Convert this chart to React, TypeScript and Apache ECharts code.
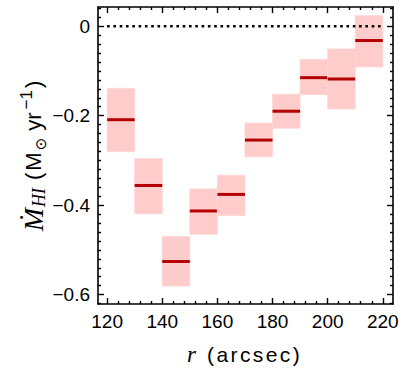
import React, { useEffect, useRef } from "react";
import * as echarts from "echarts";

// ---- data ----
const rStart = [120, 130, 140, 150, 160, 170, 180, 190, 200, 210];
const rEnd = [130, 140, 150, 160, 170, 180, 190, 200, 210, 220];
const mdot = [-0.209, -0.356, -0.526, -0.413, -0.376, -0.2545, -0.19, -0.115, -0.118, -0.032];
const mdotLow = [-0.2805, -0.419, -0.581, -0.465, -0.423, -0.292, -0.228, -0.153, -0.185, -0.091];
const mdotHigh = [-0.139, -0.296, -0.47, -0.364, -0.333, -0.2165, -0.152, -0.074, -0.051, 0.024];
const zeroLine = [
  [120, 0],
  [220, 0],
];

const xMajor = [120, 140, 160, 180, 200, 220];
const xMinor = [124, 128, 132, 136, 144, 148, 152, 156, 164, 168, 172, 176, 184, 188, 192, 196, 204, 208, 212, 216];
const yMajor = [-0.6, -0.4, -0.2, 0];
const yMinor = [-0.62, -0.58, -0.56, -0.54, -0.52, -0.5, -0.48, -0.46, -0.44, -0.42, -0.38, -0.36, -0.34, -0.32, -0.3, -0.28, -0.26, -0.24, -0.22, -0.18, -0.16, -0.14, -0.12, -0.1, -0.08, -0.06, -0.04, -0.02, 0.02, 0.04];

const X_MIN = 116.7;
const X_MAX = 223.7;
const Y_MIN = -0.621;
const Y_MAX = 0.043;

const SANS = "'Liberation Sans', Arial, Helvetica, sans-serif";
const SERIF = "'Liberation Serif', 'DejaVu Serif', 'Times New Roman', serif";

function fmtY(v: number): string {
  if (Math.abs(v) < 1e-9) return "0";
  return (v < 0 ? "\u2212" : "") + Math.abs(v).toFixed(1);
}

function xAxisDef(position: string, major: boolean, labels: boolean) {
  return {
    type: "value",
    position,
    min: X_MIN,
    max: X_MAX,
    axisLine: { show: major, onZero: false, lineStyle: { color: "#000", width: 1.6 } },
    axisTick: {
      show: true,
      inside: true,
      length: major ? 6 : 3,
      customValues: major ? xMajor : xMinor,
      lineStyle: { color: "#000", width: 1.4 },
    },
    axisLabel: {
      show: labels,
      customValues: xMajor,
      fontSize: 19,
      fontFamily: SANS,
      color: "#000",
      margin: 8,
      formatter: (v: number) => String(Math.round(v)),
    },
    splitLine: { show: false },
  };
}

function yAxisDef(position: string, major: boolean, labels: boolean) {
  return {
    type: "value",
    position,
    min: Y_MIN,
    max: Y_MAX,
    axisLine: { show: major, onZero: false, lineStyle: { color: "#000", width: 1.6 } },
    axisTick: {
      show: true,
      inside: true,
      length: major ? 6 : 3,
      customValues: major ? yMajor : yMinor,
      lineStyle: { color: "#000", width: 1.4 },
    },
    axisLabel: {
      show: labels,
      customValues: yMajor,
      fontSize: 19,
      fontFamily: SANS,
      color: "#000",
      margin: 8,
      formatter: (v: number) => fmtY(v),
    },
    splitLine: { show: false },
  };
}

const spaced = (s: string) =>
  s
    .split("")
    .map((c) => "{c|" + c + "}")
    .join("");

export default function App() {
  const ref = useRef<HTMLDivElement>(null);

  useEffect(() => {
    if (!ref.current) return;
    const chart = echarts.init(ref.current, undefined, { renderer: "svg" });

    const boxData = rStart.map((s, i) => [s, rEnd[i], mdot[i], mdotLow[i], mdotHigh[i]]);

    const option: any = {
      animation: false,
      backgroundColor: "#fff",
      grid: {
        left: 98,
        top: 7,
        right: 18,
        bottom: 75,
        containLabel: false,
        outerBoundsMode: "none",
      },
      xAxis: [
        xAxisDef("bottom", true, true),
        xAxisDef("bottom", false, false),
        xAxisDef("top", true, false),
        xAxisDef("top", false, false),
      ],
      yAxis: [
        yAxisDef("left", true, true),
        yAxisDef("left", false, false),
        yAxisDef("right", true, false),
        yAxisDef("right", false, false),
      ],
      graphic: [
        {
          type: "text",
          x: 33,
          y: 156,
          rotation: Math.PI / 2,
          style: {
            text: "{m|\u1E40}{sub|HI}{n|(}{n|M}{sun|\u2299}{n|yr}{sup|\u22121}{np|)}",
            align: "center",
            verticalAlign: "middle",
            fill: "#000",
            rich: {
              m: { fontFamily: SERIF, fontStyle: "italic", fontSize: 28, lineHeight: 30, fill: "#000" },
              sub: {
                fontFamily: SERIF,
                fontStyle: "italic",
                fontSize: 18,
                lineHeight: 18,
                verticalAlign: "bottom",
                padding: [0, 7, 0, 1],
                fill: "#000",
              },
              n: { fontFamily: SANS, fontSize: 22, lineHeight: 30, padding: [0, 1, 0, 1], fill: "#000" },
              np: { fontFamily: SANS, fontSize: 22, lineHeight: 30, padding: [0, 0, 0, 2], fill: "#000" },
              sun: {
                fontFamily: "'DejaVu Sans', sans-serif",
                fontSize: 15,
                lineHeight: 16,
                verticalAlign: "bottom",
                padding: [0, 6, 0, 1],
                fill: "#000",
              },
              sup: {
                fontFamily: SANS,
                fontSize: 17,
                lineHeight: 17,
                verticalAlign: "top",
                padding: [0, 0, 0, 2],
                fill: "#000",
              },
            },
          },
        },
        {
          type: "text",
          x: 244,
          y: 354,
          style: {
            text: "{r|r}{g| }" + spaced("(arcsec)"),
            align: "center",
            verticalAlign: "middle",
            fill: "#000",
            rich: {
              r: { fontFamily: SERIF, fontStyle: "italic", fontSize: 23, lineHeight: 28, fill: "#000" },
              g: { fontFamily: SANS, fontSize: 21, lineHeight: 28, padding: [0, 2, 0, 2], fill: "#000" },
              c: { fontFamily: SANS, fontSize: 21, lineHeight: 28, padding: [0, 1.2, 0, 1.2], fill: "#000" },
            },
          },
        },
      ],
      series: [
        {
          type: "custom",
          xAxisIndex: 0,
          yAxisIndex: 0,
          data: boxData,
          encode: { x: [0, 1], y: [2, 3, 4] },
          z: 2,
          renderItem: (params: any, api: any) => {
            const x0 = api.value(0);
            const x1 = api.value(1);
            const v = api.value(2);
            const lo = api.value(3);
            const hi = api.value(4);
            const pTop = api.coord([x0, hi]);
            const pBot = api.coord([x1, lo]);
            const pL = api.coord([x0, v]);
            const pR = api.coord([x1, v]);
            return {
              type: "group",
              children: [
                {
                  type: "rect",
                  shape: {
                    x: pTop[0],
                    y: pTop[1],
                    width: pBot[0] - pTop[0],
                    height: pBot[1] - pTop[1],
                  },
                  style: { fill: "#ffcccc", stroke: "#ffd6d6", lineWidth: 0.8 },
                },
                {
                  type: "line",
                  shape: { x1: pL[0], y1: pL[1], x2: pR[0], y2: pR[1] },
                  style: { stroke: "#b40000", lineWidth: 3 },
                },
              ],
            };
          },
        },
        {
          type: "line",
          xAxisIndex: 0,
          yAxisIndex: 0,
          data: zeroLine,
          symbol: "none",
          z: 5,
          lineStyle: { color: "#000", width: 2.6, type: [2.6, 3.7] },
        },
      ],
    };

    chart.setOption(option);
    return () => {
      chart.dispose();
    };
  }, []);

  return (
    <div
      ref={ref}
      style={{ position: "absolute", left: 0, top: 0, width: 411, height: 379, background: "#fff" }}
    />
  );
}
